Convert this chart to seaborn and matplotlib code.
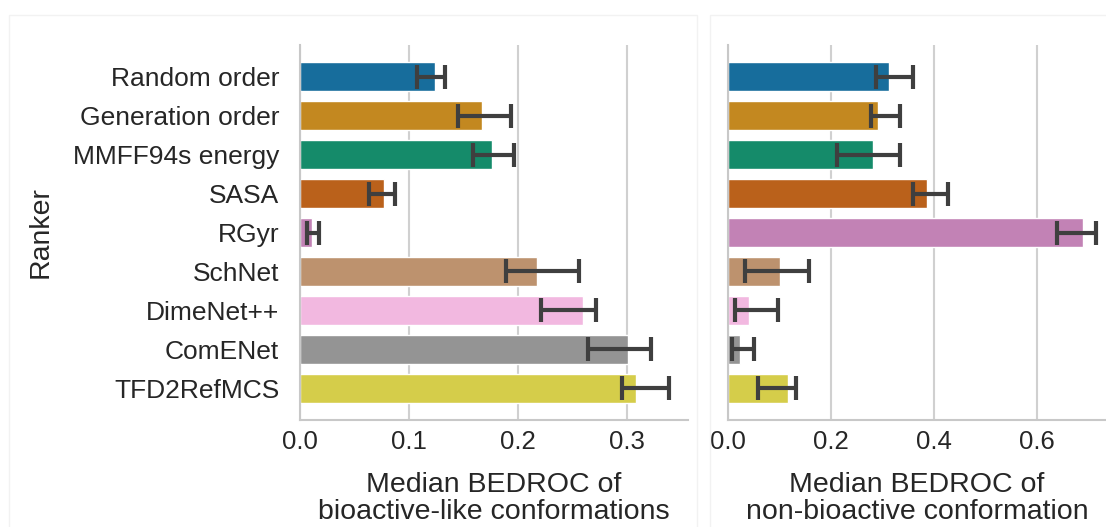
import numpy as np
import pandas as pd
import matplotlib
matplotlib.use("Agg")
import matplotlib.pyplot as plt
import seaborn as sns
from matplotlib.patches import Rectangle

rankers = ["Random order", "Generation order", "MMFF94s energy", "SASA", "RGyr",
           "SchNet", "DimeNet++", "ComENet", "TFD2RefMCS"]

bio_median = [0.124, 0.167, 0.176, 0.077, 0.011, 0.217, 0.260, 0.301, 0.308]
bio_low    = [0.107, 0.145, 0.159, 0.063, 0.006, 0.189, 0.221, 0.264, 0.295]
bio_high   = [0.133, 0.194, 0.196, 0.087, 0.017, 0.256, 0.272, 0.322, 0.339]

non_median = [0.313, 0.291, 0.281, 0.386, 0.691, 0.101, 0.041, 0.023, 0.116]
non_low    = [0.287, 0.278, 0.212, 0.360, 0.640, 0.034, 0.013, 0.008, 0.059]
non_high   = [0.360, 0.334, 0.335, 0.428, 0.716, 0.157, 0.097, 0.051, 0.133]

left_xticks = [0.0, 0.1, 0.2, 0.3]
right_xticks = [0.0, 0.2, 0.4, 0.6]

sns.set_theme(style="whitegrid")
plt.rcParams['font.family'] = ['Liberation Sans', 'DejaVu Sans']
plt.rcParams['text.color'] = '.15'

fig = plt.figure(figsize=(11.06, 5.27), dpi=100)
fig.add_artist(Rectangle((9/1106, -0.01), (697-9)/1106, 1 - 15/527 + 0.01,
                         transform=fig.transFigure, fill=False, edgecolor='#f2f2f2', lw=1))
fig.add_artist(Rectangle((710/1106, -0.01), 0.4, 1 - 15/527 + 0.01,
                         transform=fig.transFigure, fill=False, edgecolor='#f2f2f2', lw=1))

ax1 = fig.add_axes([300/1106, 1 - 420/527, 388/1106, 375/527])
ax2 = fig.add_axes([728/1106, 1 - 420/527, 378/1106, 375/527])

panels = [
    (ax1, bio_median, bio_low, bio_high, left_xticks, 0.356,
     "Median BEDROC of\nbioactive-like conformations"),
    (ax2, non_median, non_low, non_high, right_xticks, 0.735,
     "Median BEDROC of\nnon-bioactive conformation"),
]

for ax, med, lo, hi, ticks, xmax, xlabel in panels:
    df = pd.DataFrame({"Ranker": rankers, "value": med})
    sns.barplot(data=df, x="value", y="Ranker", hue="Ranker", palette="colorblind",
                legend=False, errorbar=None, ax=ax, width=0.75)
    med_a = np.array(med)
    xerr = [med_a - np.array(lo), np.array(hi) - med_a]
    ax.errorbar(med_a, np.arange(len(rankers)), xerr=xerr, fmt='none',
                ecolor='#3f3f3f', elinewidth=3, capsize=8.5, capthick=3, zorder=5)
    ax.set_xlim(0, xmax)
    ax.set_xticks(ticks)
    ax.set_xticklabels([f"{t:.1f}" for t in ticks], fontsize=18.5, color='.15')
    ax.set_xlabel(xlabel, fontsize=20.5, color='.15', labelpad=13, linespacing=1.05)
    ax.grid(axis='y', visible=False)
    ax.grid(axis='x', color='#d0d0d0', linewidth=1.5)
    for s in ["top", "right"]:
        ax.spines[s].set_visible(False)
    for s in ["left", "bottom"]:
        ax.spines[s].set_color('#c8c8c8')
        ax.spines[s].set_linewidth(1.5)
    ax.tick_params(axis='x', length=0, pad=7)
    ax.tick_params(axis='y', length=0, pad=15)

ax1.set_ylabel("Ranker", fontsize=20.5, color='.15', labelpad=14)
ax1.set_yticks(range(len(rankers)))
ax1.set_yticklabels(rankers, fontsize=19, color='.15')
ax2.set_ylabel("")
ax2.set_yticklabels([])

fig.savefig("out.png", dpi=100, facecolor='white')
